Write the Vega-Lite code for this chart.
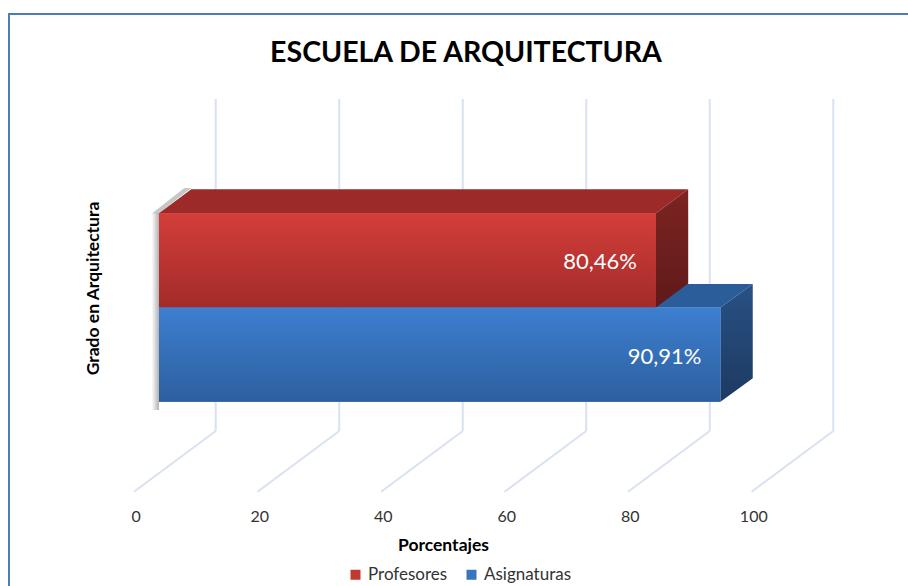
{
  "$schema": "https://vega.github.io/schema/vega-lite/v6.json",
  "width": 900,
  "height": 580,
  "autosize": {"type": "none"},
  "padding": {"left": 9, "top": 14, "right": 0, "bottom": 0},
  "background": "white",
  "config": {
    "view": {"stroke": "#4a7ebb", "strokeWidth": 2, "fill": "white"},
    "font": "Lato",
    "locale": {"number": {"decimal": ",", "thousands": ".", "grouping": [3], "currency": ["", " €"]}}
  },
  "title": {
    "text": "ESCUELA DE ARQUITECTURA",
    "font": "Lato",
    "fontSize": 28.5,
    "fontWeight": "bold",
    "color": "#000000",
    "anchor": "middle",
    "frame": "group",
    "offset": 0,
    "baseline": "alphabetic",
    "dy": 76,
    "dx": 7
  },
  "datasets": {
    "barras": [
      {"serie": "Profesores", "valor": 0.8046, "arriba": 19.93, "abajo": 29.35, "centro": 24.64},
      {"serie": "Asignaturas", "valor": 0.9091, "arriba": 29.35, "abajo": 38.77, "centro": 34.06}
    ],
    "tapas": [
      {"serie": "Profesores", "nivel": 17.53, "desde": 0.0523, "hasta": 0.8569},
      {"serie": "Profesores", "nivel": 19.93, "desde": 0, "hasta": 0.8046},
      {"serie": "Asignaturas", "nivel": 27.0, "desde": 0.0523, "hasta": 0.9614},
      {"serie": "Asignaturas", "nivel": 29.35, "desde": 0, "hasta": 0.9091}
    ],
    "lados": [
      {"serie": "Profesores", "pos": 0.8046, "arriba": 19.93, "abajo": 29.35},
      {"serie": "Profesores", "pos": 0.8569, "arriba": 17.53, "abajo": 26.95},
      {"serie": "Asignaturas", "pos": 0.9091, "arriba": 29.35, "abajo": 38.77},
      {"serie": "Asignaturas", "pos": 0.9614, "arriba": 27.0, "abajo": 36.43}
    ],
    "sombra": [
      {"nivel": 17.4, "desde": 0.041, "hasta": 0.0523},
      {"nivel": 19.93, "desde": -0.011, "hasta": 0}
    ],
    "rejilla": [
      {"marca": 0, "fondo": 0.0918, "frente": -0.0405},
      {"marca": 20, "fondo": 0.2918, "frente": 0.1595},
      {"marca": 40, "fondo": 0.4918, "frente": 0.3595},
      {"marca": 60, "fondo": 0.6918, "frente": 0.5595},
      {"marca": 80, "fondo": 0.8918, "frente": 0.7595},
      {"marca": 100, "fondo": 1.0918, "frente": 0.9595}
    ]
  },
  "layer": [
    {
      "data": {"name": "rejilla"},
      "mark": {"type": "rule", "color": "#d9e2f1", "strokeWidth": 2},
      "encoding": {
        "x": {
          "field": "fondo", "type": "quantitative", "title": "Porcentajes",
          "scale": {"domain": [-0.2429, 1.2144], "nice": false, "zero": false},
          "axis": {
            "orient": "bottom", "offset": -86, "values": [0, 0.2, 0.4, 0.6, 0.8, 1],
            "labelExpr": "format(datum.value * 100, 'd')",
            "domain": false, "ticks": false, "tickSize": 0, "grid": false,
            "labelPadding": 0, "labelOffset": -23.3, "labelFlush": false,
            "labelFont": "Lato", "labelFontSize": 16, "labelColor": "#333333",
            "titleFont": "Lato", "titleFontSize": 17.5, "titleFontWeight": "bold", "titleColor": "#000000",
            "titleX": 434, "titleY": 37, "titleBaseline": "middle", "titleAlign": "center", "titleAnchor": null
          }
        },
        "y": {
          "datum": 8.5, "type": "quantitative", "title": "Grado en Arquitectura",
          "scale": {"domain": [0, 58], "reverse": true, "nice": false, "zero": false},
          "axis": {
            "orient": "left", "labels": false, "ticks": false, "domain": false, "grid": false,
            "titleFont": "Lato", "titleFontSize": 17.5, "titleFontWeight": "bold", "titleColor": "#000000",
            "titleAngle": 270, "titleX": 84, "titleY": 274, "titleAlign": "center", "titleBaseline": "middle"
          }
        },
        "y2": {"datum": 41.7}
      }
    },
    {
      "data": {"name": "rejilla"},
      "mark": {"type": "rule", "color": "#d9e2f1", "strokeWidth": 2},
      "encoding": {
        "x": {"field": "fondo", "type": "quantitative", "title": "Porcentajes"},
        "x2": {"field": "frente"},
        "y": {"datum": 41.7, "type": "quantitative", "title": "Grado en Arquitectura"},
        "y2": {"datum": 47.77}
      }
    },
    {
      "data": {"name": "sombra"},
      "mark": {"type": "area", "orient": "horizontal", "fill": "rgba(0,0,0,0.22)"},
      "encoding": {
        "y": {"field": "nivel", "type": "quantitative", "title": "Grado en Arquitectura"},
        "x": {"field": "desde", "type": "quantitative", "title": "Porcentajes"},
        "x2": {"field": "hasta"}
      }
    },
    {
      "data": {"values": [{}]},
      "mark": {
        "type": "rect",
        "fill": {"x1": 0, "y1": 0, "x2": 1, "y2": 0, "gradient": "linear",
          "stops": [{"offset": 0, "color": "rgba(0,0,0,0)"}, {"offset": 1, "color": "rgba(0,0,0,0.3)"}]}
      },
      "encoding": {
        "x": {"datum": -0.012, "type": "quantitative", "title": "Porcentajes"},
        "x2": {"datum": 0},
        "y": {"datum": 19.9, "type": "quantitative", "title": "Grado en Arquitectura"},
        "y2": {"datum": 39.6}
      }
    },
    {
      "data": {"name": "tapas"},
      "transform": [{"filter": "datum.serie === 'Asignaturas'"}],
      "mark": {"type": "area", "orient": "horizontal", "fill": "#2c5d9b"},
      "encoding": {
        "y": {"field": "nivel", "type": "quantitative", "title": "Grado en Arquitectura"},
        "x": {"field": "desde", "type": "quantitative", "title": "Porcentajes"},
        "x2": {"field": "hasta"}
      }
    },
    {
      "data": {"name": "tapas"},
      "transform": [{"filter": "datum.serie === 'Profesores'"}],
      "mark": {"type": "area", "orient": "horizontal", "fill": "#9c2a28"},
      "encoding": {
        "y": {"field": "nivel", "type": "quantitative", "title": "Grado en Arquitectura"},
        "x": {"field": "desde", "type": "quantitative", "title": "Porcentajes"},
        "x2": {"field": "hasta"}
      }
    },
    {
      "data": {"name": "lados"},
      "transform": [{"filter": "datum.serie === 'Asignaturas'"}],
      "mark": {
        "type": "area", "orient": "vertical",
        "fill": {"x1": 0, "y1": 0, "x2": 0, "y2": 1, "gradient": "linear",
          "stops": [{"offset": 0, "color": "#285185"}, {"offset": 1, "color": "#1d3a61"}]}
      },
      "encoding": {
        "x": {"field": "pos", "type": "quantitative", "title": "Porcentajes"},
        "y": {"field": "arriba", "type": "quantitative", "title": "Grado en Arquitectura"},
        "y2": {"field": "abajo"}
      }
    },
    {
      "data": {"name": "lados"},
      "transform": [{"filter": "datum.serie === 'Profesores'"}],
      "mark": {
        "type": "area", "orient": "vertical",
        "fill": {"x1": 0, "y1": 0, "x2": 0, "y2": 1, "gradient": "linear",
          "stops": [{"offset": 0, "color": "#7d2422"}, {"offset": 1, "color": "#5e1a19"}]}
      },
      "encoding": {
        "x": {"field": "pos", "type": "quantitative", "title": "Porcentajes"},
        "y": {"field": "arriba", "type": "quantitative", "title": "Grado en Arquitectura"},
        "y2": {"field": "abajo"}
      }
    },
    {
      "data": {"name": "barras"},
      "mark": {"type": "rect"},
      "encoding": {
        "x": {"field": "valor", "type": "quantitative", "title": "Porcentajes"},
        "x2": {"datum": 0},
        "y": {"field": "arriba", "type": "quantitative", "title": "Grado en Arquitectura"},
        "y2": {"field": "abajo"},
        "color": {
          "field": "serie", "type": "nominal",
          "scale": {"domain": ["Profesores", "Asignaturas"], "range": ["#c0392f", "#3a73c0"]},
          "legend": {
            "orient": "none", "legendX": 338, "legendY": 552, "direction": "horizontal",
            "title": null, "symbolType": "square", "symbolSize": 100, "symbolStrokeWidth": 0,
            "labelFont": "Lato", "labelFontSize": 17, "labelColor": "#333333",
            "columnPadding": 15, "labelOffset": 4, "padding": 0
          }
        }
      }
    },
    {
      "data": {"name": "barras"},
      "transform": [{"filter": "datum.serie === 'Profesores'"}],
      "mark": {
        "type": "rect",
        "fill": {"x1": 0, "y1": 0, "x2": 0, "y2": 1, "gradient": "linear",
          "stops": [{"offset": 0, "color": "#d33e3a"}, {"offset": 1, "color": "#a32b29"}]}
      },
      "encoding": {
        "x": {"field": "valor", "type": "quantitative", "title": "Porcentajes"},
        "x2": {"datum": 0},
        "y": {"field": "arriba", "type": "quantitative", "title": "Grado en Arquitectura"},
        "y2": {"field": "abajo"}
      }
    },
    {
      "data": {"name": "barras"},
      "transform": [{"filter": "datum.serie === 'Asignaturas'"}],
      "mark": {
        "type": "rect",
        "fill": {"x1": 0, "y1": 0, "x2": 0, "y2": 1, "gradient": "linear",
          "stops": [{"offset": 0, "color": "#3d7fd0"}, {"offset": 1, "color": "#2d5f9f"}]}
      },
      "encoding": {
        "x": {"field": "valor", "type": "quantitative", "title": "Porcentajes"},
        "x2": {"datum": 0},
        "y": {"field": "arriba", "type": "quantitative", "title": "Grado en Arquitectura"},
        "y2": {"field": "abajo"}
      }
    },
    {
      "data": {"name": "barras"},
      "mark": {"type": "text", "align": "right", "baseline": "middle", "dx": -19, "dy": 2,
        "fill": "#ffffff", "font": "Lato", "fontSize": 22},
      "encoding": {
        "x": {"field": "valor", "type": "quantitative", "title": "Porcentajes"},
        "y": {"field": "centro", "type": "quantitative", "title": "Grado en Arquitectura"},
        "text": {"field": "valor", "type": "quantitative", "format": ".2%"}
      }
    }
  ]
}
